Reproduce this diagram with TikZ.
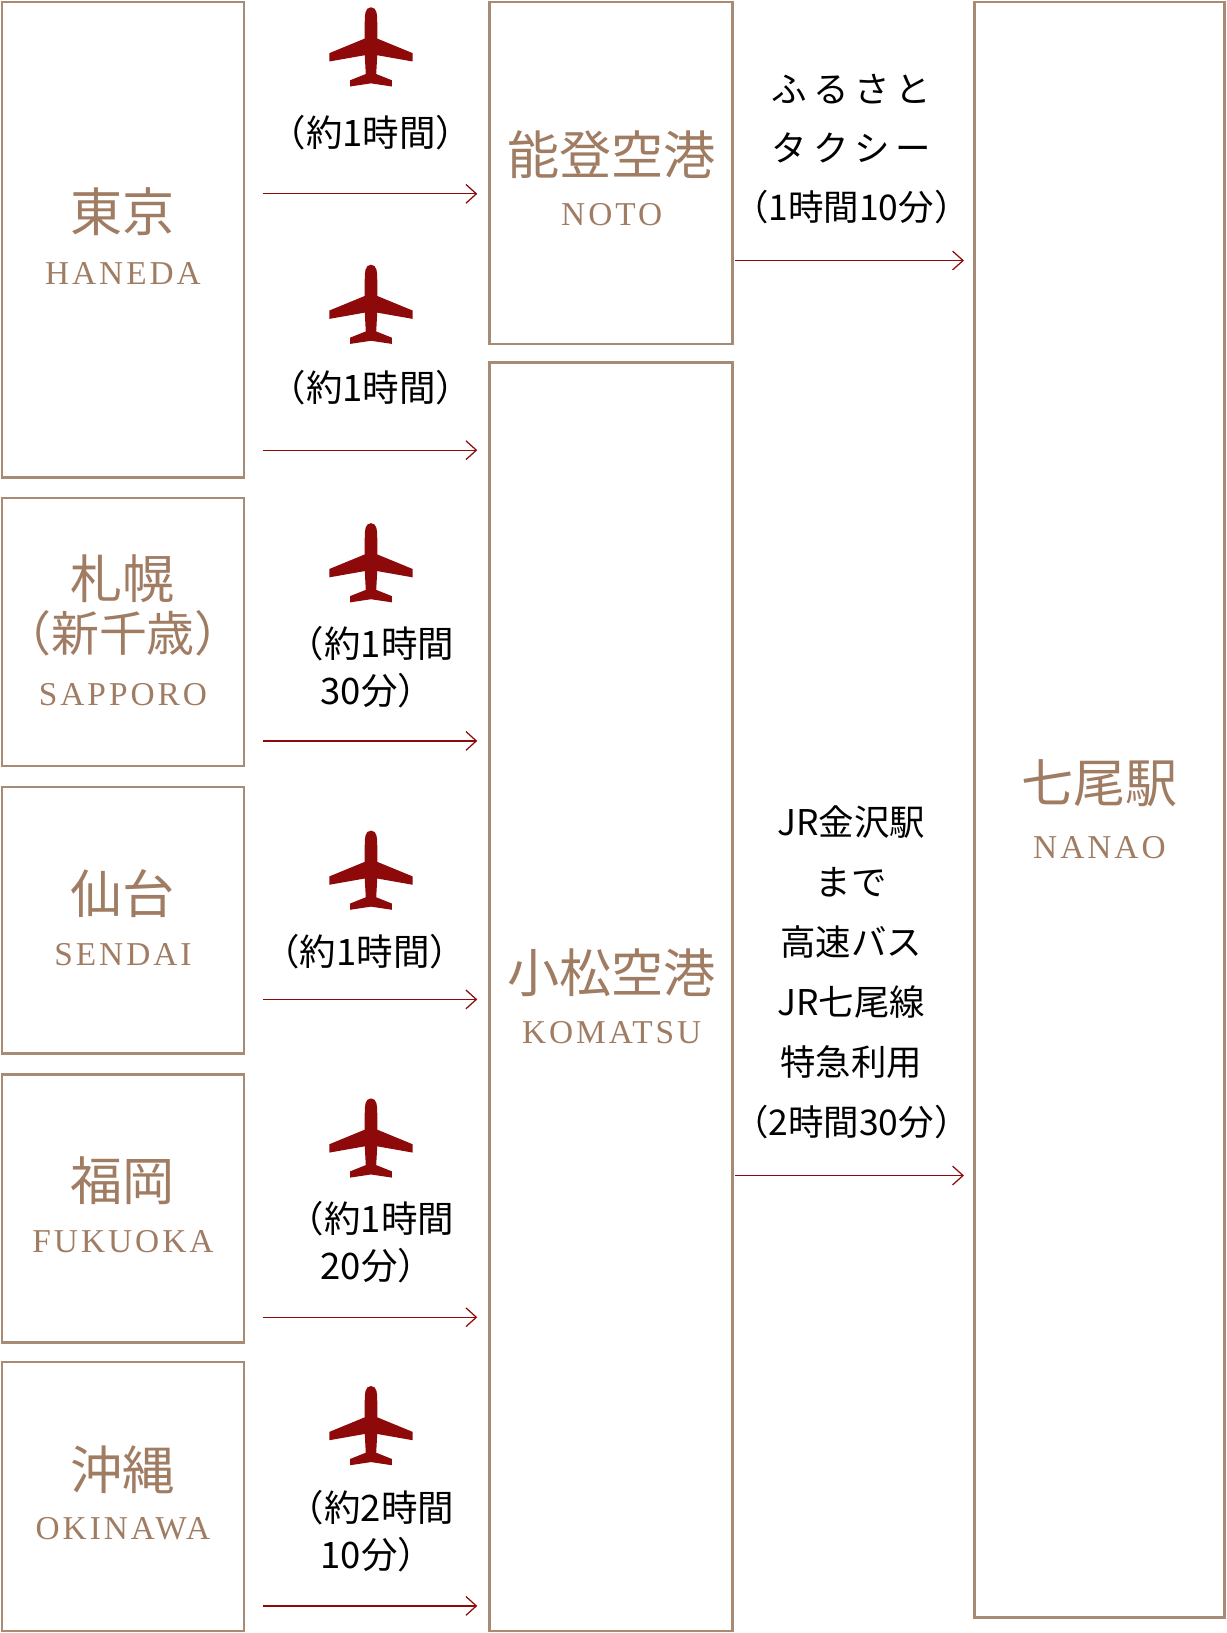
\documentclass[tikz,border=0pt]{standalone}
\usepackage{fontspec}
\setmainfont{Liberation Serif}
\newfontfamily\jp{Noto Sans CJK JP}
\newfontfamily\wide[LetterSpace=9]{Liberation Serif}
\usetikzlibrary{arrows.meta}
\definecolor{frame}{HTML}{A88B74}
\definecolor{title}{HTML}{A07C63}
\definecolor{route}{HTML}{8E0A0A}
\tikzset{
  place/.style={draw=frame,line width=2.5pt},
  jname/.style={text=title,font=\jp\fontsize{50}{54}\selectfont},
  ename/.style={text=title,font=\wide\fontsize{32}{34}\selectfont},
  dur/.style={font=\jp\fontsize{35}{45}\selectfont,align=center},
  go/.style={draw=route,line width=1.2pt,-{Straight Barb[length=10pt,width=18pt]}},
  plane/.pic={\fill[route] (0,-38) .. controls (6,-38) and (6,-30) .. (6,-24) -- (6,-8) -- (40,6) -- (40,14) -- (6,8) -- (5,26) -- (20,32) -- (20,38) -- (0,35) -- (-20,38) -- (-20,32) -- (-5,26) -- (-6,8) -- (-40,14) -- (-40,6) -- (-6,-8) -- (-6,-24) .. controls (-6,-30) and (-6,-38) .. (0,-38) -- cycle;}
}
\begin{document}
\begin{tikzpicture}[x=1pt,y=-1pt]
\useasboundingbox (0,0) rectangle (1177,1567);
% boxes
\draw[place] (2,2) rectangle (234,458);
\draw[place] (2,478) rectangle (234,735);
\draw[place] (2,755) rectangle (234,1011);
\draw[place] (2,1031) rectangle (234,1288);
\draw[place] (2,1307) rectangle (234,1565);
\draw[place] (470,2) rectangle (703,330);
\draw[place] (470,348) rectangle (703,1565);
\draw[place] (935,2) rectangle (1175,1552);
% names
\node[jname] (tokyo) at (118,203) {東京};
\node[ename] (haneda) at (118,262) {HANEDA};
\node[jname] (sapporo) at (118,555) {札幌};
\node[jname,font=\jp\fontsize{46}{50}\selectfont] (chitose) at (118,608) {（新千歳）};
\node[ename] (spk) at (118,667) {SAPPORO};
\node[jname] (sendai) at (118,857) {仙台};
\node[ename] (sdj) at (118,916) {SENDAI};
\node[jname] (fukuoka) at (118,1133) {福岡};
\node[ename] (fuk) at (118,1191) {FUKUOKA};
\node[jname] (okinawa) at (118,1410) {沖縄};
\node[ename] (oka) at (118,1467) {OKINAWA};
\node[jname] (noto) at (587,148) {能登空港};
\node[ename] (ntq) at (587,206) {NOTO};
\node[jname] (komatsu) at (587,933) {小松空港};
\node[ename] (kmq) at (587,991) {KOMATSU};
\node[jname] (nanao) at (1055,752) {七尾駅};
\node[ename] (nanaoen) at (1055,813) {NANAO};
% flights
\foreach \y in {45,292,540,835,1092,1368}
  \pic at (356,\y) {plane};
\node[dur] (t1) at (356,127) {（約1時間）};
\node[dur] (t2) at (356,372) {（約1時間）};
\node[dur] (t3) at (356,640) {（約1時間\\\hspace*{12pt}30分）};
\node[dur] (t4) at (350,913) {（約1時間）};
\node[dur] (t5) at (356,1192) {（約1時間\\\hspace*{12pt}20分）};
\node[dur] (t6) at (356,1469) {（約2時間\\\hspace*{12pt}10分）};
\foreach \y in {186,432,711,959,1264,1541}
  \draw[go] (252,\y) -- (458,\y);
% onward
\node[dur,font=\jp\fontsize{34}{57}\selectfont] (taxi) at (817,143) {ふ\,る\,さ\,と\\タ\,ク\,シ\,ー\\（1時間10分）};
\node[dur,font=\jp\fontsize{34}{57.5}\selectfont] (bus) at (817,933) {JR金沢駅\\まで\\高速バス\\JR七尾線\\特急利用\\（2時間30分）};
\draw[go] (705,250) -- (925,250);
\draw[go] (705,1128) -- (925,1128);
\end{tikzpicture}
\end{document}
